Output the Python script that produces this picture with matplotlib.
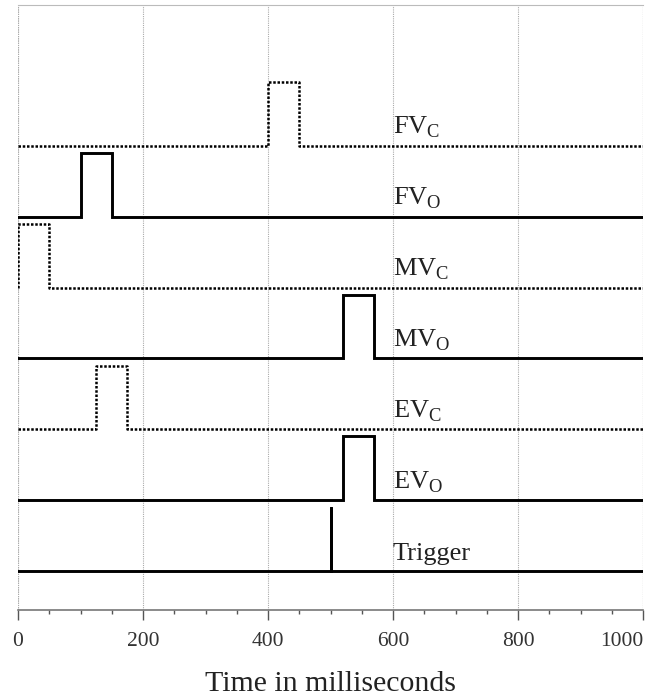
import matplotlib
matplotlib.use("Agg")
import matplotlib.pyplot as plt
from matplotlib.ticker import MultipleLocator

plt.rcParams['font.family'] = ['Liberation Serif', 'DejaVu Serif']
plt.rcParams['mathtext.fontset'] = 'custom'
plt.rcParams['mathtext.rm'] = 'Liberation Serif'

# Data
names = ["FV", "FV", "MV", "MV", "EV", "EV", "Trigger"]
subs = ["C", "O", "C", "O", "C", "O", ""]
baselines = [6, 5, 4, 3, 2, 1, 0]
starts = [400, 100, 0, 520, 125, 520, 500]
ends = [450, 150, 50, 570, 175, 570, 500]
dotted = [True, False, True, False, True, False, False]
tick_values = [0, 200, 400, 600, 800, 1000]
tick_labels = ["0", "200", "400", "600", "800", "1000"]
pulse_height = 0.9
t_min, t_max = 0, 1000

fig = plt.figure(figsize=(6.53, 6.96), dpi=100)
ax = fig.add_axes([0.0276, 0.1236, 0.9571, 0.8692])

for name, sub, b, s, e, dot in zip(names, subs, baselines, starts, ends, dotted):
    xs = [t_min, s, s, e, e, t_max]
    ys = [b, b, b + pulse_height, b + pulse_height, b, b]
    if dot:
        ax.plot(xs, ys, color='black', lw=1.8, linestyle=(0, (1, 0.7)),
                solid_joinstyle='miter', zorder=3)
    else:
        ax.plot(xs, ys, color='black', lw=2.1, solid_joinstyle='miter', zorder=3)
    label = name + (r"$_{\mathregular{%s}}$" % sub if sub else "")
    ax.text(600, b + 0.08, label, fontsize=19, color='#222222',
            ha='left', va='bottom', zorder=4)

ax.set_xlim(t_min, t_max)
ax.set_ylim(-0.55, 7.99)
ax.set_yticks([])
ax.set_xticks(tick_values)
ax.set_xticklabels(tick_labels)
ax.xaxis.set_minor_locator(MultipleLocator(50))
ax.tick_params(axis='x', which='major', direction='out', length=7, width=1,
               color='#555555', labelsize=15.5, labelcolor='#333333', pad=9)
ax.tick_params(axis='x', which='minor', direction='out', length=3, width=1,
               color='#555555')
lbls = ax.get_xticklabels()
lbls[-1].set_horizontalalignment('right')
lbls[-1].set_x(1000)
ax.grid(axis='x', which='major', color='#aaaaaa', linestyle=(0, (1, 1)), lw=0.8)
for sp in ['left', 'right']:
    ax.spines[sp].set_visible(False)
ax.axvline(0, color='#aaaaaa', linestyle=(0, (1, 1)), lw=0.8, zorder=1)
ax.axvline(1000, color='#aaaaaa', linestyle=(0, (1, 1)), lw=0.8, zorder=1)
ax.spines['top'].set_color('#bbbbbb')
ax.spines['bottom'].set_color('#777777')
ax.spines['bottom'].set_linewidth(1.2)
ax.set_xlabel("Time in milliseconds", fontsize=21.5, color='#222222', labelpad=14)

fig.savefig("out.png", dpi=100)
